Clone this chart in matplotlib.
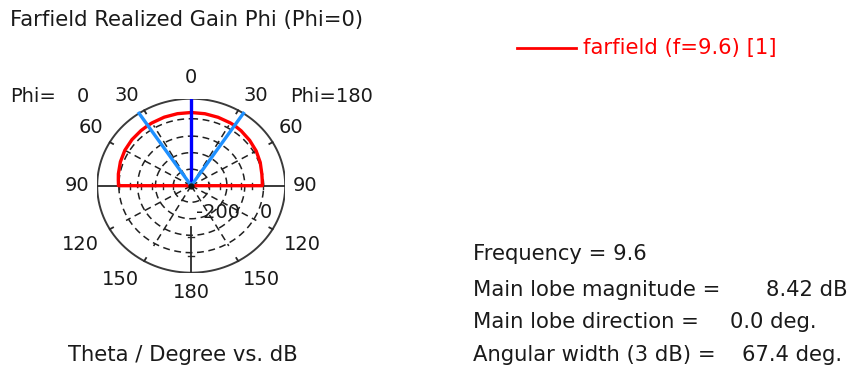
import numpy as np
import matplotlib.pyplot as plt

# Realized gain cut (dB), theta in degrees, for both half planes
theta = [0, 10, 20, 30, 33.7, 40, 50, 60, 70, 80, 85, 90, 91, 120, 150, 180]
gain_phi0 = [8.42, 8.2, 7.5, 6.1, 5.42, 4.6, 3.0, 0.5, -3.5, -8.0, -10.5, -12.0,
             -250, -250, -250, -250]
gain_phi180 = [8.42, 8.0, 7.0, 5.9, 5.42, 3.5, -0.5, -4.5, -9.5, -15.0, -16.5, -17.0,
               -250, -250, -250, -250]

main_lobe_dir = 0.0
main_lobe_mag = 8.42
beam_width = 67.4
freq = 9.6

# radial scale of the polar grid (dB at centre / outer ring)
r_min_db, r_max_db = -244.0, 56.0

theta_ticks = [0, 30, 60, 90, 120, 150, 180]
# where each theta label sits: radius (outer ring = 1) and small angle nudge
label_r = [1.24, 1.25, 1.255, 1.21, 1.36, 1.31, 1.23]
label_nudge = [0, 3.5, -2, 0, 0, -5, 0]

W, H = 849, 374
fig = plt.figure(figsize=(W / 100, H / 100), dpi=100)
TXT = '#1a1a1a'


def ftext(x, y, s, **kw):
    # place text using pixel positions measured from the top-left corner
    kw.setdefault('color', TXT)
    kw.setdefault('fontsize', 15.2)
    kw.setdefault('va', 'center')
    fig.text(x / W, 1 - y / H, s, **kw)


def to_r(db):
    return np.clip((np.asarray(db, float) - r_min_db) / (r_max_db - r_min_db), 0, None)


def xy(th, r, side):
    th = np.radians(np.asarray(th, float))
    return side * r * np.sin(th), r * np.cos(th)


# polar area (elliptic on screen)
cx, cy, rx, ry = 191.2, 185.7, 94.0, 87.0
ax = fig.add_axes([(cx - rx) / W, (H - cy - ry) / H, 2 * rx / W, 2 * ry / H])
ax.set_xlim(-1, 1)
ax.set_ylim(-1, 1)
ax.axis('off')

t = np.linspace(0, 2 * np.pi, 400)
ax.plot(np.sin(t), np.cos(t), color='#3a3a3a', lw=1.4, zorder=2)

# dashed grid rings and spokes
dash = (0, (4.5, 3))
rings = [0.19, 0.38, 0.57, 0.77]
for rr in rings:
    ax.plot(rr * np.sin(t), rr * np.cos(t), color='#202020', lw=1.1,
            ls=dash, zorder=1)
for a in [30, 60, 120, 150]:
    for s in (-1, 1):
        x, y = xy([a, a], np.array([0.0, 0.8]), s)
        ax.plot(x, y, color='#202020', lw=1.1, ls=dash, zorder=1)

# solid axes with small ticks
ax.plot([-1, 1], [0, 0], color='#2a2a2a', lw=1.3, zorder=2)
ax.plot([0, 0], [-0.48, -1], color='#2a2a2a', lw=1.3, zorder=2)
ticks_r = np.arange(0.19, 0.8, 0.115)
for rr in ticks_r:
    for s in (-1, 1):
        ax.plot([s * rr, s * rr], [-0.035, 0.035], color='#2a2a2a', lw=1.0, zorder=2)
for rr in [0.59, 0.81]:
    ax.plot([-0.035, 0.035], [-rr, -rr], color='#2a2a2a', lw=1.0, zorder=2)
for a in [30, 60, 120, 150]:
    for s in (-1, 1):
        x, y = xy([a, a], np.array([0.96, 1.0]), s)
        ax.plot(x, y, color='#2a2a2a', lw=1.3, zorder=2)
ax.plot([0], [0], 'o', color='#111111', ms=3.5, zorder=6)

# gain curve: phi=0 on the left, phi=180 on the right
xl, yl = xy(theta, to_r(gain_phi0), -1)
xr, yr = xy(theta, to_r(gain_phi180), 1)
ax.plot(np.r_[xl[::-1], xr], np.r_[yl[::-1], yr], color='#ff0000', lw=2.4,
        solid_joinstyle='round', zorder=4)

# main lobe direction and 3 dB beam width
x, y = xy([main_lobe_dir, main_lobe_dir], np.array([0.0, 1.0]), 1)
ax.plot(x, y, color='#0000ff', lw=2.4, zorder=5)
for s in (-1, 1):
    x, y = xy([beam_width / 2] * 2, np.array([0.0, 1.0]), s)
    ax.plot(x, y, color='#1e90ff', lw=2.4, zorder=5)

# theta labels around the circle
for a, lr, nd in zip(theta_ticks, label_r, label_nudge):
    for s in (-1, 1):
        if s == 1 and a in (0, 180):
            continue
        x, y = xy(a + nd, lr, s)
        ax.text(x, y, str(a), ha='center', va='center', fontsize=14,
                color=TXT, clip_on=False)

ax.text(0.285, -0.31, '-200', ha='center', va='center', fontsize=14, color=TXT)
ax.text(0.79, -0.31, '0', ha='center', va='center', fontsize=14, color=TXT)

ftext(10, 20, 'Farfield Realized Gain Phi (Phi=0)')
ftext(10, 97, 'Phi=', fontsize=14)
ftext(83, 97, '0', fontsize=14, ha='center')
ftext(290, 97, 'Phi=180', fontsize=14)
ftext(68, 355, 'Theta / Degree vs. dB')

# legend entry
lx = [517 / W, 576 / W]
fig.add_artist(plt.Line2D(lx, [1 - 48 / H] * 2, color='#ff0000', lw=2.0))
ftext(583, 48, f'farfield (f={freq}) [1]', color='#ff0000')

ftext(473, 254, f'Frequency = {freq}')
ftext(473, 290, 'Main lobe magnitude =')
ftext(766, 290, f'{main_lobe_mag:.2f} dB')
ftext(473, 322, 'Main lobe direction =')
ftext(730, 322, f'{main_lobe_dir:.1f} deg.')
ftext(473, 355, 'Angular width (3 dB) =')
ftext(742, 355, f'{beam_width:.1f} deg.')

fig.savefig('out.png', dpi=100)
